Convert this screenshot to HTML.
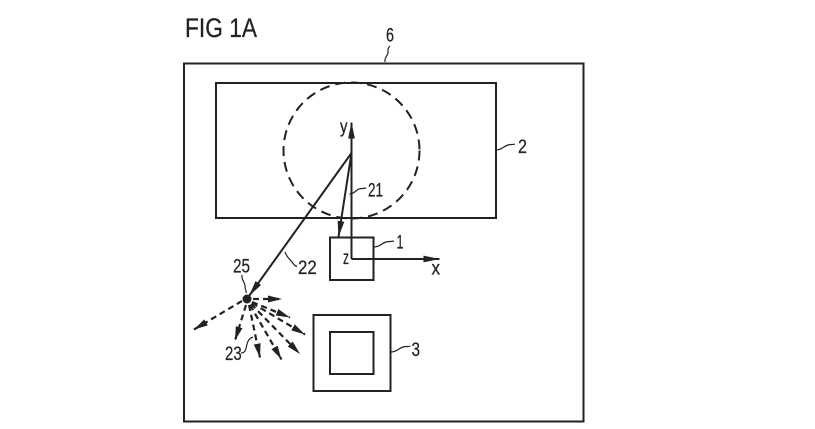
<!DOCTYPE html>
<html>
<head>
<meta charset="utf-8">
<style>
  html,body{margin:0;padding:0;background:#fff;}
  body{width:815px;height:429px;overflow:hidden;}
  svg{display:block;}
  text{font-family:"Liberation Sans",Arial,sans-serif;fill:#222;stroke:#222;stroke-width:0.25;}
</style>
</head>
<body>
<svg width="815" height="429" viewBox="0 0 815 429" xmlns="http://www.w3.org/2000/svg">
  <defs>
    <marker id="ah" markerUnits="userSpaceOnUse" viewBox="0 0 16 8" refX="16" refY="4" markerWidth="16" markerHeight="8" orient="auto">
      <path d="M0,0.6 L16,4 L0,7.4 z" fill="#222"/>
    </marker>
    <marker id="ar" markerUnits="userSpaceOnUse" viewBox="0 0 14 8" refX="14" refY="4" markerWidth="14" markerHeight="8" orient="auto">
      <path d="M0,0.5 L14,4 L0,7.5 z" fill="#222"/>
    </marker>
  </defs>

  <!-- Title -->
  <text x="185" y="37" font-size="26.5" textLength="72" lengthAdjust="spacingAndGlyphs">FIG 1A</text>

  <!-- Outer box 6 -->
  <rect x="184" y="63.5" width="399.5" height="358" fill="none" stroke="#222" stroke-width="2"/>
  <text x="386" y="41.7" font-size="19" textLength="8" lengthAdjust="spacingAndGlyphs">6</text>
  <path d="M385,62 C384,57 389,55 388,51 C387.5,49 389,47 390,46" fill="none" stroke="#222" stroke-width="1.2"/>

  <!-- Rect 2 -->
  <rect x="216" y="83" width="280" height="135" fill="none" stroke="#222" stroke-width="2"/>
  <text x="518" y="153" font-size="19" textLength="9" lengthAdjust="spacingAndGlyphs">2</text>
  <path d="M496,150 C502,150 504,146 508,145 C511,144 513,145 515,144" fill="none" stroke="#222" stroke-width="1.2"/>

  <!-- Dashed circle -->
  <circle cx="351.5" cy="150.5" r="68" fill="none" stroke="#222" stroke-width="2" stroke-dasharray="10 6"/>

  <!-- Axes -->
  <line x1="351.5" y1="259" x2="351.5" y2="122.5" stroke="#222" stroke-width="2" marker-end="url(#ah)"/>
  <line x1="351.5" y1="259" x2="439.5" y2="259" stroke="#222" stroke-width="2" marker-end="url(#ah)"/>
  <text x="340" y="132.5" font-size="18" textLength="7.5" lengthAdjust="spacingAndGlyphs">y</text>
  <text x="431.5" y="274.3" font-size="19" textLength="8.5" lengthAdjust="spacingAndGlyphs">x</text>
  <text x="343" y="264" font-size="19" textLength="6" lengthAdjust="spacingAndGlyphs">z</text>

  <!-- Box 1 -->
  <rect x="330" y="237.5" width="43.5" height="42.5" fill="none" stroke="#222" stroke-width="2"/>
  <text x="396.5" y="248.3" font-size="19" textLength="7" lengthAdjust="spacingAndGlyphs">1</text>
  <path d="M374,247 C380,247 382,243 386,242 C389,241 391,242 394,241" fill="none" stroke="#222" stroke-width="1.2"/>

  <!-- Line 21 -->
  <line x1="351.5" y1="153" x2="338.5" y2="237" stroke="#222" stroke-width="2" marker-end="url(#ah)"/>
  <text x="368" y="196.5" font-size="19" textLength="15" lengthAdjust="spacingAndGlyphs">21</text>
  <path d="M349.5,194 C354,194 356,190 359,189 C361,188 363,189 366,188" fill="none" stroke="#222" stroke-width="1.2"/>

  <!-- Line 22 -->
  <line x1="351.5" y1="153" x2="249" y2="296" stroke="#222" stroke-width="2" marker-end="url(#ah)"/>
  <text x="298" y="274" font-size="19" textLength="18.7" lengthAdjust="spacingAndGlyphs">22</text>
  <path d="M285,252 C287,258 290,259 292,262 C294,265 295,266 297,266.5" fill="none" stroke="#222" stroke-width="1.2"/>

  <!-- Dot 25 -->
  <circle cx="247" cy="299" r="4.5" fill="#222"/>
  <text x="233" y="272.7" font-size="19" textLength="17" lengthAdjust="spacingAndGlyphs">25</text>
  <path d="M242,275 C241,280 245,282 245,286 C245,289 246,291 246.5,293" fill="none" stroke="#222" stroke-width="1.2"/>

  <!-- Rays 23 -->
  <g stroke="#222" stroke-width="2.2" stroke-dasharray="6 4" fill="none">
    <line x1="253" y1="299" x2="282" y2="299" marker-end="url(#ar)"/>
    <line x1="252" y1="302" x2="290" y2="317.5" marker-end="url(#ar)"/>
    <line x1="252" y1="303" x2="305" y2="334.5" marker-end="url(#ar)"/>
    <line x1="251" y1="304" x2="300" y2="354" marker-end="url(#ar)"/>
    <line x1="250" y1="305" x2="281.5" y2="359.5" marker-end="url(#ar)"/>
    <line x1="249" y1="305" x2="260" y2="357.5" marker-end="url(#ar)"/>
    <line x1="246" y1="305" x2="235" y2="340.5" marker-end="url(#ar)"/>
    <line x1="242" y1="301" x2="194" y2="329.5" marker-end="url(#ar)"/>
  </g>
  <text x="225" y="360" font-size="19" textLength="16.7" lengthAdjust="spacingAndGlyphs">23</text>
  <path d="M241,353 C246,353 246,348 247,344 C248,340 250,338 253,337" fill="none" stroke="#222" stroke-width="1.2"/>

  <!-- Box 3 -->
  <rect x="313.5" y="315" width="77" height="76" fill="none" stroke="#222" stroke-width="2"/>
  <rect x="330" y="332" width="43.5" height="42" fill="none" stroke="#222" stroke-width="2"/>
  <text x="411.5" y="356" font-size="19" textLength="8.5" lengthAdjust="spacingAndGlyphs">3</text>
  <path d="M391,352 C397,352 399,348 403,347 C406,346 408,347 410.5,346" fill="none" stroke="#222" stroke-width="1.2"/>
</svg>
</body>
</html>
